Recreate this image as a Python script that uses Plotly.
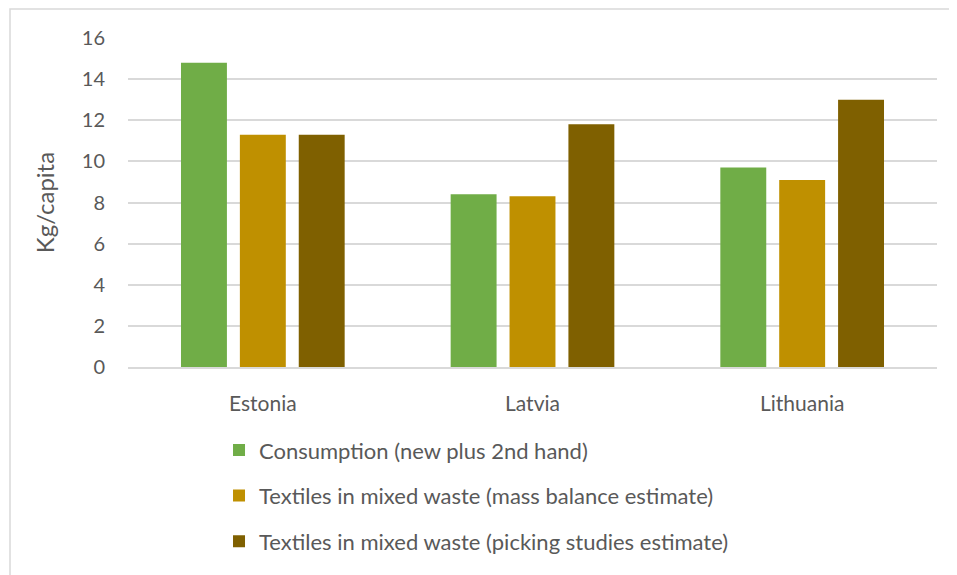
import plotly.graph_objects as go

countries = ["Estonia", "Latvia", "Lithuania"]
consumption = [14.8, 8.4, 9.7]
mass_balance = [11.3, 8.3, 9.1]
picking = [11.3, 11.8, 13.0]
series_names = [
    "Consumption (new plus 2nd hand)",
    "Textiles in mixed waste (mass balance estimate)",
    "Textiles in mixed waste (picking studies estimate)",
]
colors = ["#70AD47", "#BF9000", "#7F6000"]
y_ticks = [0, 2, 4, 6, 8, 10, 12, 14, 16]

FONT = "Lato, Liberation Sans, sans-serif"
fig = go.Figure()
for i, vals in enumerate([consumption, mass_balance, picking]):
    fig.add_trace(go.Bar(
        x=countries, y=vals, name=series_names[i],
        marker=dict(color=colors[i], line=dict(width=0)),
        legendgroup=f"g{i}",
    ))

fig.update_layout(
    width=957, height=575,
    margin=dict(l=120, r=28, t=30, b=216),
    paper_bgcolor="white", plot_bgcolor="white",
    barmode="group", bargap=0.345, bargroupgap=0.22,
    font=dict(family=FONT, color="#595959", size=20),
    showlegend=True,
    legend=dict(
        x=0.1125, y=-0.189, xanchor="left", yanchor="top",
        orientation="v", tracegroupgap=14,
        font=dict(size=22, color="#595959"),
        itemwidth=30,
    ),
    yaxis=dict(
        range=[0, 16], tickvals=y_ticks, showgrid=True,
        gridcolor="#D9D9D9", gridwidth=1.5, zeroline=False,
        showline=False, ticklabelstandoff=22,
        tickfont=dict(size=20, color="#595959"),
        title=dict(text="Kg/capita", font=dict(size=24, color="#595959"), standoff=20),
    ),
    xaxis=dict(
        showline=True, linecolor="#D9D9D9", linewidth=1.5,
        ticks="", ticklabelstandoff=17,
        tickfont=dict(size=21, color="#595959"),
    ),
    shapes=[dict(
        type="rect", xref="paper", yref="paper",
        x0=(10 - 128) / 809, x1=1.1, y0=-0.8, y1=(367 - 9) / 329,
        line=dict(color="#D9D9D9", width=1.5), fillcolor="rgba(0,0,0,0)",
        layer="below",
    )],
)

fig.write_html("out.html")
